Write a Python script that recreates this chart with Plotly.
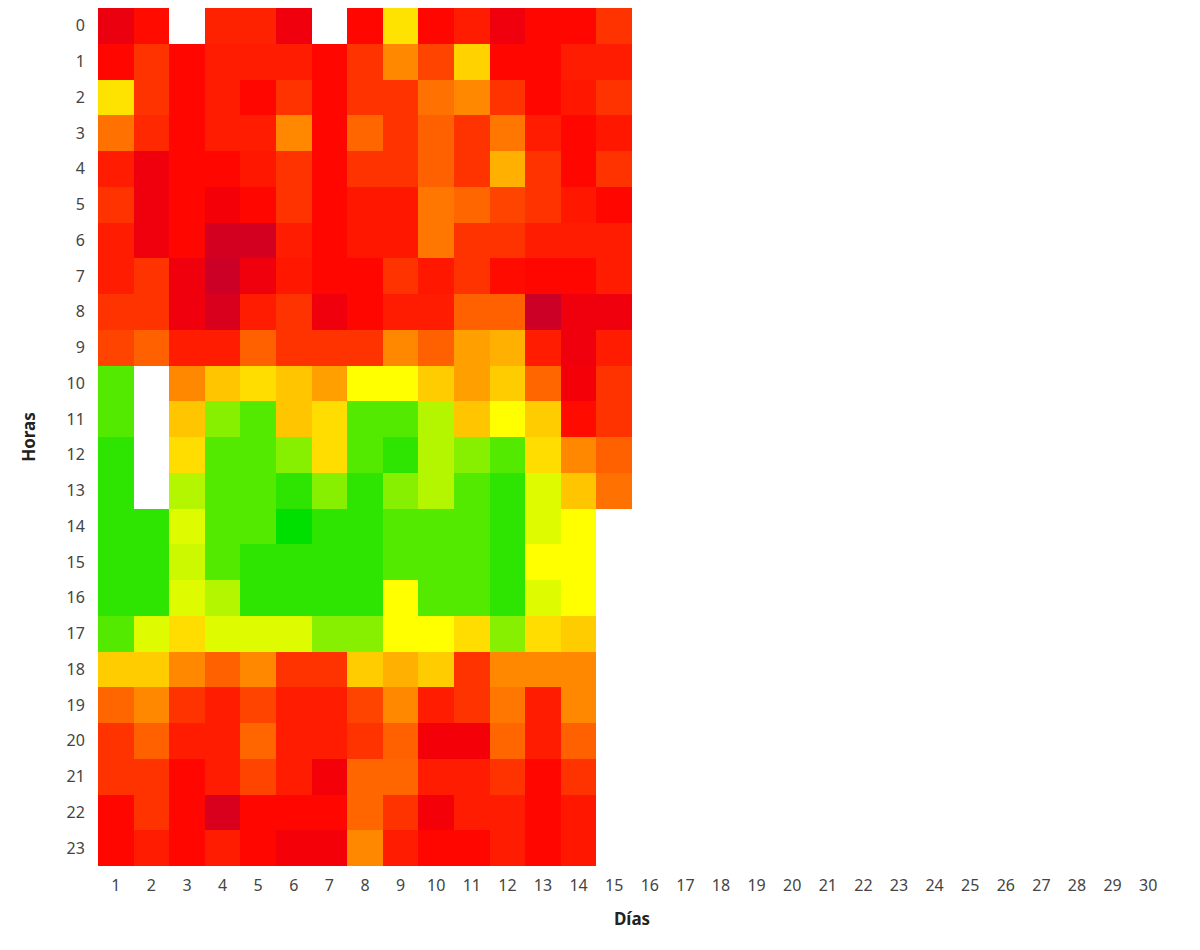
import plotly.graph_objects as go

dias = list(range(1, 31))
horas = list(range(0, 24))

# valores por hora (días 1..15); None = sin dato
h00 = [10, 17, None, 21, 21, 11, None, 16, 55, 16, 20, 11, 16, 16, 24]
h01 = [16, 24, 16, 20, 20, 20, 16, 24, 39, 27, 52, 16, 16, 20, 20]
h02 = [55, 24, 16, 20, 16, 24, 16, 24, 24, 35, 39, 24, 16, 19, 24]
h03 = [35, 22, 16, 20, 20, 39, 16, 33, 24, 32, 24, 36, 20, 16, 19]
h04 = [20, 11, 16, 16, 19, 24, 16, 24, 24, 32, 24, 46, 24, 16, 24]
h05 = [24, 11, 16, 12, 16, 24, 16, 19, 19, 36, 33, 27, 24, 19, 16]
h06 = [20, 11, 16, 4, 4, 20, 16, 19, 19, 36, 24, 24, 20, 20, 20]
h07 = [20, 24, 11, 2, 11, 19, 16, 16, 24, 19, 24, 17, 16, 16, 20]
h08 = [24, 24, 11, 5, 20, 24, 11, 16, 20, 20, 32, 32, 2, 11, 11]
h09 = [27, 32, 20, 20, 32, 24, 24, 24, 39, 32, 43, 46, 20, 11, 20]
h10 = [87, None, 39, 50, 54, 50, 43, 60, 60, 51, 43, 51, 33, 12, 24]
h11 = [87, None, 50, 79, 87, 50, 54, 87, 87, 72, 50, 60, 51, 17, 24]
h12 = [93, None, 54, 87, 87, 79, 54, 87, 93, 72, 79, 87, 54, 39, 32]
h13 = [93, None, 72, 87, 87, 93, 79, 93, 79, 72, 87, 93, 65, 50, 35]
h14 = [93, 93, 65, 87, 87, 100, 93, 93, 87, 87, 87, 93, 65, 60]
h15 = [93, 93, 68, 87, 93, 93, 93, 93, 87, 87, 87, 93, 60, 60]
h16 = [93, 93, 65, 72, 93, 93, 93, 93, 60, 87, 87, 93, 65, 60]
h17 = [87, 65, 54, 65, 65, 65, 79, 79, 60, 60, 54, 79, 54, 51]
h18 = [51, 51, 39, 32, 39, 24, 24, 51, 46, 51, 24, 39, 39, 39]
h19 = [33, 39, 24, 20, 27, 20, 20, 27, 39, 20, 24, 36, 20, 39]
h20 = [24, 32, 20, 20, 33, 20, 20, 24, 32, 12, 12, 33, 20, 32]
h21 = [24, 24, 16, 20, 27, 20, 12, 33, 33, 20, 20, 24, 16, 24]
h22 = [16, 24, 16, 5, 16, 16, 16, 33, 24, 12, 20, 20, 16, 19]
h23 = [16, 20, 16, 20, 16, 12, 12, 39, 20, 16, 16, 20, 16, 19]

filas = [h00, h01, h02, h03, h04, h05, h06, h07, h08, h09, h10, h11,
         h12, h13, h14, h15, h16, h17, h18, h19, h20, h21, h22, h23]
z = [fila + [None] * (len(dias) - len(fila)) for fila in filas]

colorscale = [
    [0.0, "rgb(196,0,44)"],
    [0.15, "rgb(255,0,0)"],
    [0.6, "rgb(255,255,0)"],
    [1.0, "rgb(0,224,0)"],
]

fig = go.Figure(go.Heatmap(
    x=dias, y=horas, z=z,
    zmin=0, zmax=100,
    colorscale=colorscale,
    showscale=False,
    hoverongaps=False,
))

tick_font = dict(family="Noto Sans, Open Sans, sans-serif", size=16, color="#444444")
title_font = dict(family="Noto Sans, Open Sans, sans-serif", size=17, color="#222222", weight="bold")

fig.update_layout(
    width=1200, height=950,
    margin=dict(l=90, r=42, t=0, b=92),
    paper_bgcolor="white", plot_bgcolor="white",
    xaxis=dict(
        range=[0.5, 30.5], tickmode="array", tickvals=dias, ticktext=[str(d) for d in dias],
        showgrid=False, zeroline=False, showline=False,
        ticks="outside", ticklen=5, tickcolor="white",
        tickfont=tick_font, title=dict(text="Días", font=title_font, standoff=17),
    ),
    yaxis=dict(
        range=[23.5, -0.5], tickmode="array", tickvals=horas, ticktext=[str(h) for h in horas],
        showgrid=False, zeroline=False, showline=False,
        ticks="outside", ticklen=9, tickcolor="white",
        tickfont=tick_font, title=dict(text="Horas", font=title_font, standoff=26),
    ),
)

fig.write_html("out.html")
